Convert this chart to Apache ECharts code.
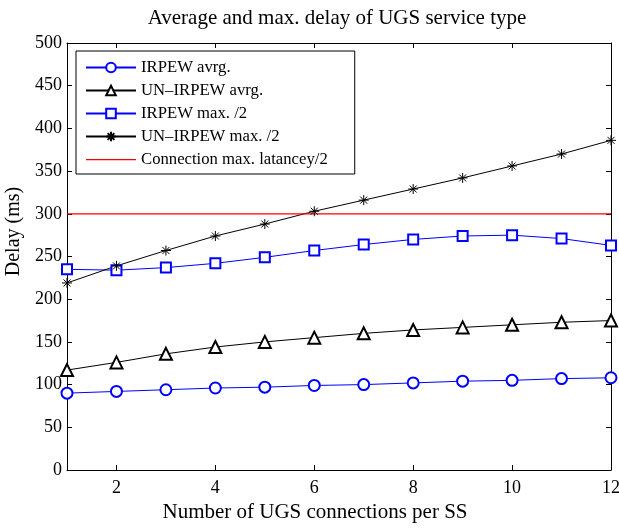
<!DOCTYPE html>
<html>
<head>
<meta charset="utf-8">
<script src="https://cdn.jsdelivr.net/npm/echarts@6/dist/echarts.min.js"></script>
<style>
  html, body { margin: 0; padding: 0; background: #fff; }
  #chart { width: 619px; height: 529px; }
</style>
</head>
<body>
<div id="chart"></div>
<script>
// connections per SS
var connections = [1, 2, 3, 4, 5, 6, 7, 8, 9, 10, 11, 12]
var irpewAvg = [90, 92, 94, 96, 97, 99, 100, 102, 104, 105, 107, 108]
var unIrpewAvg = [117, 126, 136, 144, 150, 155, 160, 164, 167, 170, 173, 175]
var irpewMax = [235, 234, 237, 242, 249, 257, 264, 270, 274, 275, 271, 263]
var unIrpewMax = [219, 239, 257, 274, 288, 303, 316, 329, 342, 356, 370, 386]
var latencyLimit = 300
var xTicks = [2, 4, 6, 8, 10, 12]

var font = 'Liberation Serif'
var blue = '#0000ff'
// '+' and 'x' on top of each other, like matlab's '*'
var asterisk = 'path://M0,-5L0,5M-5,0L5,0M-3.5,-3.5L3.5,3.5M-3.5,3.5L3.5,-3.5'
// a plain thin line for the legend, tall bounding box keeps it thin
var plainLine = 'path://M0,0L0.01,0M0,5.4L50,5.4L50,6.8L0,6.8ZM0,12L0.01,12'

function pairs(vals) {
  return connections.map(function (x, i) { return [x, vals[i]] })
}

var tickStyle = { inside: true, length: 5, lineStyle: { color: '#000' } }
var lineAx = { show: true, onZero: false, lineStyle: { color: '#000', width: 1 } }

var chart = echarts.init(document.getElementById('chart'))
chart.setOption({
  animation: false,
  backgroundColor: '#fff',
  textStyle: { fontFamily: font },
  title: {
    text: 'Average and max. delay of UGS service type',
    left: 332, textAlign: 'center', top: 3,
    textStyle: { fontFamily: font, fontSize: 21, fontWeight: 'normal', color: '#000' }
  },
  grid: { left: 67, right: 8, top: 43, bottom: 59, outerBoundsMode: 'none', containLabel: false },
  legend: {
    orient: 'vertical',
    left: 76, top: 51,
    padding: [8, 27, 6, 9],
    itemWidth: 50, itemHeight: 12, itemGap: 6,
    borderColor: '#000', borderWidth: 1,
    backgroundColor: '#fff',
    textStyle: { fontFamily: font, fontSize: 16.7, lineHeight: 16, color: '#000' },
    data: [
      'IRPEW avrg.', 'UN\u2013IRPEW avrg.', 'IRPEW max. /2', 'UN\u2013IRPEW max. /2',
      { name: 'Connection max. latancey/2', icon: plainLine, itemStyle: { color: '#ff0000' } }
    ]
  },
  xAxis: [{
    type: 'value', min: 1, max: 12,
    name: 'Number of UGS connections per SS',
    nameLocation: 'middle', nameGap: 25,
    nameTextStyle: { fontFamily: font, fontSize: 21, color: '#000', padding: [0, 48, 0, 0] },
    axisLine: lineAx,
    axisTick: Object.assign({ customValues: xTicks }, tickStyle),
    axisLabel: { customValues: xTicks, fontFamily: font, fontSize: 18, color: '#000', margin: 9 },
    splitLine: { show: false }
  }, {
    type: 'value', min: 1, max: 12, position: 'top',
    axisLine: lineAx,
    axisTick: Object.assign({ customValues: xTicks }, tickStyle),
    axisLabel: { show: false },
    splitLine: { show: false }
  }],
  yAxis: [{
    type: 'value', min: 0, max: 500, interval: 50,
    name: 'Delay (ms)',
    nameLocation: 'middle', nameGap: 40,
    nameTextStyle: { fontFamily: font, fontSize: 20, color: '#000', padding: [0, 0, 0, 50] },
    axisLine: lineAx,
    axisTick: tickStyle,
    axisLabel: { fontFamily: font, fontSize: 18, color: '#000', margin: 5 },
    splitLine: { show: false }
  }, {
    type: 'value', min: 0, max: 500, interval: 50, position: 'right',
    axisLine: lineAx,
    axisTick: tickStyle,
    axisLabel: { show: false },
    splitLine: { show: false }
  }],
  series: [
    {
      name: 'IRPEW avrg.', type: 'line', data: pairs(irpewAvg),
      symbol: 'emptyCircle', symbolSize: 11,
      lineStyle: { color: blue, width: 1 },
      itemStyle: { color: blue, borderWidth: 1 }
    },
    {
      name: 'UN\u2013IRPEW avrg.', type: 'line', data: pairs(unIrpewAvg),
      symbol: 'emptyTriangle', symbolSize: 12,
      lineStyle: { color: '#000', width: 1 },
      itemStyle: { color: '#000', borderWidth: 1 }
    },
    {
      name: 'IRPEW max. /2', type: 'line', data: pairs(irpewMax),
      symbol: 'emptyRect', symbolSize: 10,
      lineStyle: { color: blue, width: 1 },
      itemStyle: { color: blue, borderWidth: 1 }
    },
    {
      name: 'UN\u2013IRPEW max. /2', type: 'line', data: pairs(unIrpewMax),
      symbol: asterisk, symbolSize: 10,
      lineStyle: { color: '#000', width: 1 },
      itemStyle: { color: '#000', borderColor: '#000', borderWidth: 1 }
    },
    {
      name: 'Connection max. latancey/2', type: 'line',
      data: [[1, latencyLimit], [12, latencyLimit]],
      symbol: 'none',
      lineStyle: { color: '#ff0000', width: 1.2 },
      itemStyle: { color: '#ff0000' }
    }
  ]
})
</script>
</body>
</html>
